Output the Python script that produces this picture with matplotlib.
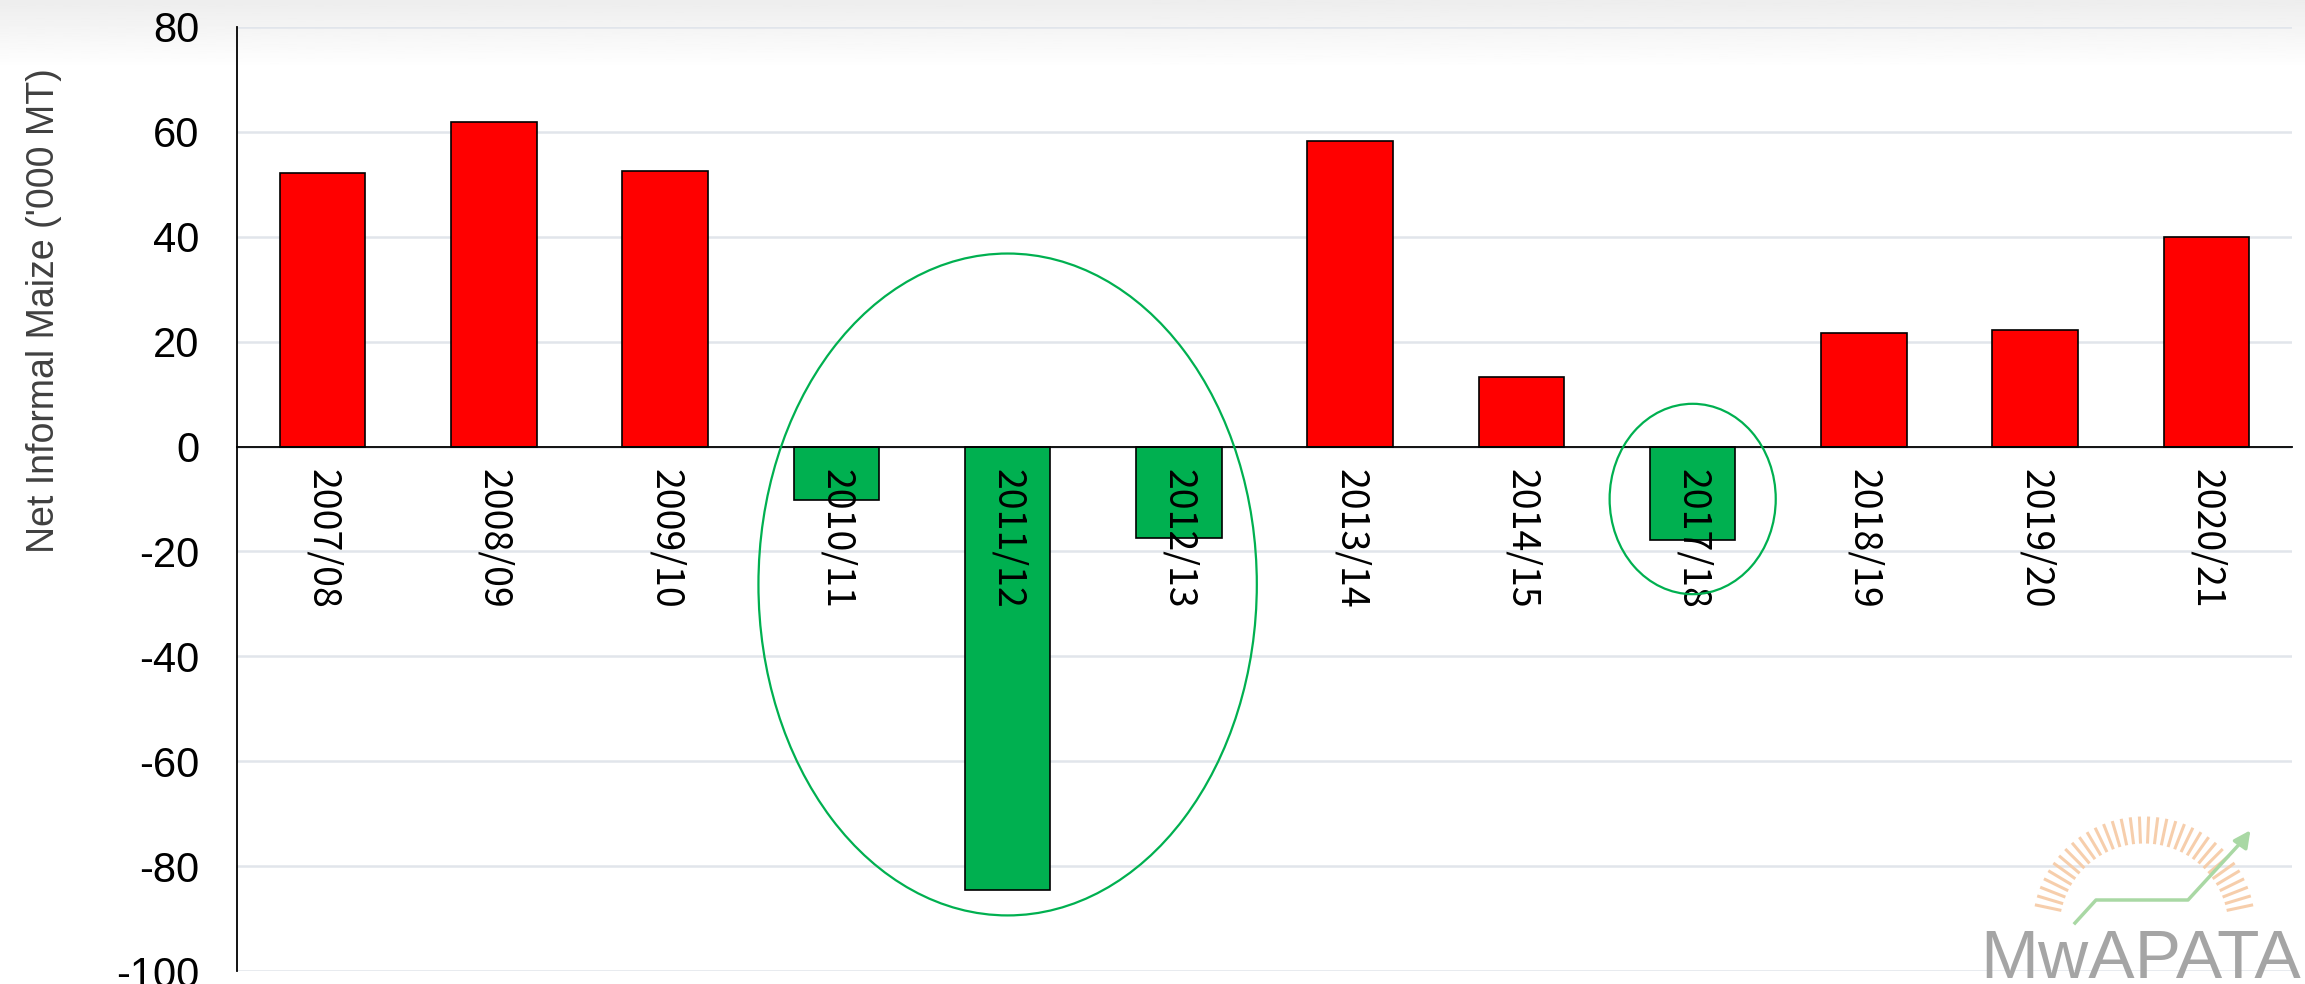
import numpy as np
import matplotlib
matplotlib.use("Agg")
import matplotlib.pyplot as plt
from matplotlib.patches import Ellipse

plt.rcParams["axes.unicode_minus"] = False

seasons = ["2007/08", "2008/09", "2009/10", "2010/11", "2011/12", "2012/13",
           "2013/14", "2014/15", "2017/18", "2018/19", "2019/20", "2020/21"]
net_maize = [52.1, 61.8, 52.5, -10.2, -84.6, -17.4, 58.3, 13.2, -17.9, 21.6, 22.3, 39.9]

y_ticks = list(range(-100, 81, 20))

# highlighted groups: (centre index, width in categories, centre value, height in value units)
highlights = [(4.0, 2.91, -26.3, 126.2), (8.0, 0.97, -10.0, 36.3)]

RED = "#FF0000"
GREEN = "#00B050"

fig = plt.figure(figsize=(23.05, 9.84), dpi=100)

# faint grey band at the top of the picture
bg = fig.add_axes([0, 0.93, 1, 0.07], zorder=0)
grad = np.linspace(0.93, 1.0, 60).reshape(-1, 1)
bg.imshow(grad, aspect="auto", cmap="gray", vmin=0, vmax=1, extent=[0, 1, 0, 1])
bg.axis("off")

ax = fig.add_axes([0.1028, 0.0132, 0.8916, 0.9594], zorder=1)
ax.set_facecolor("none")

x = np.arange(len(seasons))
colors = [RED if v > 0 else GREEN for v in net_maize]
ax.bar(x, net_maize, width=0.5, color=colors, edgecolor="black", linewidth=1.2, zorder=2)

ax.set_xlim(-0.5, len(seasons) - 0.5)
ax.set_ylim(-100, 80)
ax.set_yticks(y_ticks)
# gridlines drawn by hand so the season labels can sit on top of the bars
for t in y_ticks:
    ax.axhline(t, color="#E1E5EB", linewidth=1.8, zorder=0.5)

for s in ["top", "right"]:
    ax.spines[s].set_visible(False)
ax.spines["bottom"].set_position(("data", 0))
ax.spines["bottom"].set_linewidth(1.3)
ax.spines["left"].set_linewidth(1.3)

ax.set_xticks(x)
ax.set_xticklabels(seasons, rotation=270, va="top", ha="center",
                   family=["Noto Sans CJK JP", "DejaVu Sans"], fontsize=27)
ax.xaxis.set_zorder(3)
ax.tick_params(axis="x", length=0, pad=16)
ax.tick_params(axis="y", length=0, pad=27)
for lab in ax.get_yticklabels():
    lab.set_family("Liberation Sans")
    lab.set_fontsize(30)

ax.set_ylabel("Net Informal Maize ('000 MT)", fontsize=27, color="#404040",
              family="Liberation Sans")
ax.yaxis.set_label_coords(-0.085, 0.70)

for cx, w, cy, h in highlights:
    ax.add_patch(Ellipse((cx, cy), w, h, fill=False, edgecolor=GREEN,
                         linewidth=1.6, zorder=6))

# MwAPATA logo, drawn in figure pixels
W, H = 2305, 984
def px(xp, yp):
    return xp / W, 1 - yp / H

cxl, cyl = 2144, 928
for ang in np.linspace(np.radians(12), np.radians(168), 34):
    x0, y0 = px(cxl + 86 * np.cos(ang), cyl - 86 * np.sin(ang))
    x1, y1 = px(cxl + 110 * np.cos(ang), cyl - 110 * np.sin(ang))
    fig.add_artist(plt.Line2D([x0, x1], [y0, y1], color="#F6C9A3", linewidth=2.2, alpha=0.9))
pts = [(2075, 923), (2096, 900), (2188, 900), (2245, 838)]
fig.add_artist(plt.Line2D([px(*p)[0] for p in pts], [px(*p)[1] for p in pts],
                          color="#A9D8A4", linewidth=2.5))
ax_logo = fig.add_axes([0, 0, 1, 1], zorder=7)
ax_logo.axis("off")
ax_logo.set_xlim(0, W)
ax_logo.set_ylim(H, 0)
ax_logo.annotate("", xy=(2252, 828), xytext=(2240, 845),
                 arrowprops=dict(arrowstyle="-|>", color="#A9D8A4", lw=2.5, mutation_scale=25))
ax_logo.text(1980, 978, "MwAPATA", fontsize=50, color="#A5A5A5", family="Liberation Sans",
             ha="left", va="baseline")

fig.savefig("out.png", dpi=100)
